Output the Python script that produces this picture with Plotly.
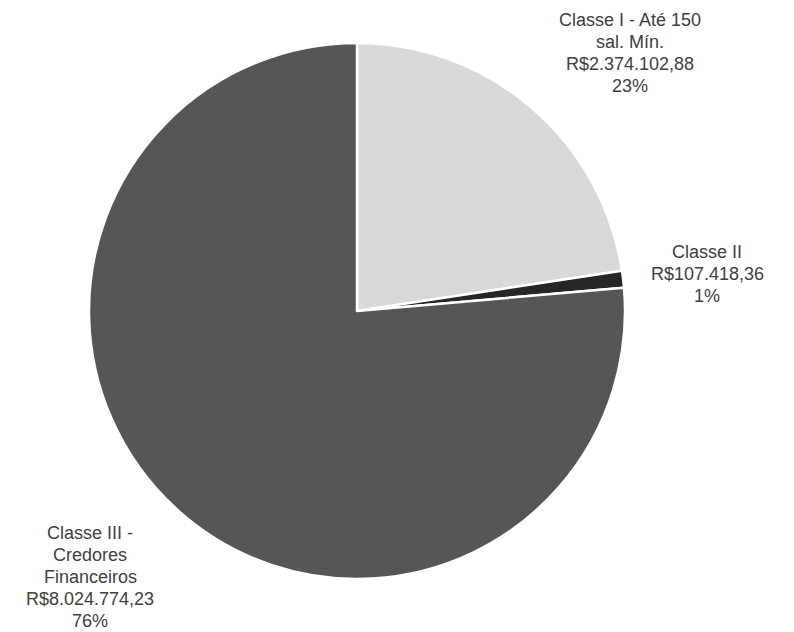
import plotly.graph_objects as go

labels = ["Classe I - Até 150 sal. Mín.", "Classe II", "Classe III - Credores Financeiros"]
label_lines = [["Classe I - Até 150", "sal. Mín."], ["Classe II"], ["Classe III -", "Credores", "Financeiros"]]
values = [2374102.88, 107418.36, 8024774.23]
value_text = ["R$2.374.102,88", "R$107.418,36", "R$8.024.774,23"]
colors = ["#d9d9d9", "#262626", "#565656"]

# page offset (body margin) compensation
OFF = 8
W, H = 794 - OFF, 632 - OFF
# pie center / radius in page pixels (layout)
CX, CY, RAD = 357 - OFF, 311 - OFF, 268
# label anchor: center x, first-line y (page pixels), line spacing
label_pos = [(630, 20), (707, 252), (90, 533)]
LINE = 22

total = sum(values)
fig = go.Figure(go.Pie(
    labels=labels, values=values, sort=False, direction="clockwise",
    marker=dict(colors=colors, line=dict(color="white", width=2.5)),
    textinfo="none", hoverinfo="label+value+percent", showlegend=False,
    domain=dict(x=[(CX - RAD) / W, (CX + RAD) / W], y=[1 - (CY + RAD) / H, 1 - (CY - RAD) / H]),
))

for lines, vt, v, (px, py) in zip(label_lines, value_text, values, label_pos):
    pct = round(v / total * 100)
    for i, line in enumerate(lines + [vt, f"{pct}%"]):
        fig.add_annotation(
            x=(px - OFF) / W, y=1 - (py - OFF + i * LINE) / H, xref="paper", yref="paper",
            text=line, showarrow=False, xanchor="center", yanchor="middle",
            align="center", font=dict(family="Liberation Sans, Arial", size=18, color="#404040"),
        )

fig.update_layout(
    width=W, height=H, margin=dict(l=0, r=0, t=0, b=0),
    paper_bgcolor="white", plot_bgcolor="white",
)
fig.write_html("out.html")
